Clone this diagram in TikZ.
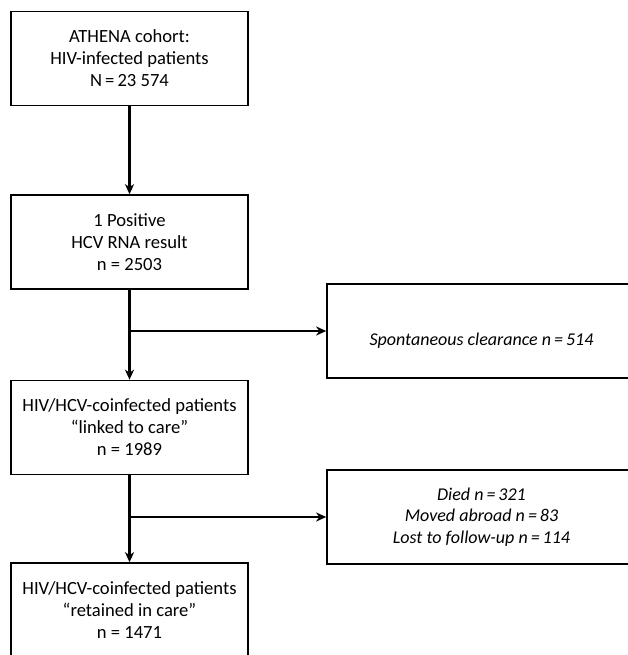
\documentclass[tikz,border=0pt]{standalone}
\usepackage{fontspec}
\setmainfont{Carlito}
\usetikzlibrary{arrows.meta}
\begin{document}
\begin{tikzpicture}[x=1pt,y=-1pt,
  box/.style={draw, line width=1.6pt, minimum width=237pt, minimum height=94pt,
    align=center, inner sep=0pt, font=\fontsize{18.6}{22}\selectfont},
  sidebox/.style={box, minimum width=309pt, font=\fontsize{18}{21.5}\selectfont\itshape},
  arr/.style={line width=2.2pt, -{Stealth[length=10pt,width=9pt,inset=3pt]}}]
\useasboundingbox (0,0) rectangle (628,655);
\begin{scope}
\clip (0,0) rectangle (628,655);
\node[box] (a) at (129.5,58.5) {ATHENA cohort:\\HIV-infected patients\\N\,=\,23 574};
\node[box] (b) at (129.5,242) {1 Positive\\HCV RNA result\\n = 2503};
\node[sidebox, label={[font=\fontsize{18}{21.5}\selectfont\itshape, yshift=-10pt]center:Spontaneous clearance \textit{n}\,=\,514}] (c) at (481.5,331) {};
\node[box] (d) at (129.5,427.5) {HIV/HCV-coinfected patients\\“linked to care”\\n = 1989};
\node[sidebox] (e) at (481.5,517) {Died \textit{n}\,=\,321\\Moved abroad \textit{n}\,=\,83\\Lost to follow-up \textit{n}\,=\,114};
\node[box] (f) at (129.5,610) {HIV/HCV-coinfected patients\\“retained in care”\\n = 1471};
\coordinate (j1) at (b.south |- c.west);
\coordinate (j2) at (d.south |- e.west);
\draw[arr] (a.south) -- (b.north);
\draw[arr] (b.south) -- (d.north);
\draw[arr] (d.south) -- (f.north);
\draw[arr] (j1) -- (c.west);
\draw[arr] (j2) -- (e.west);
\end{scope}
\end{tikzpicture}
\end{document}
